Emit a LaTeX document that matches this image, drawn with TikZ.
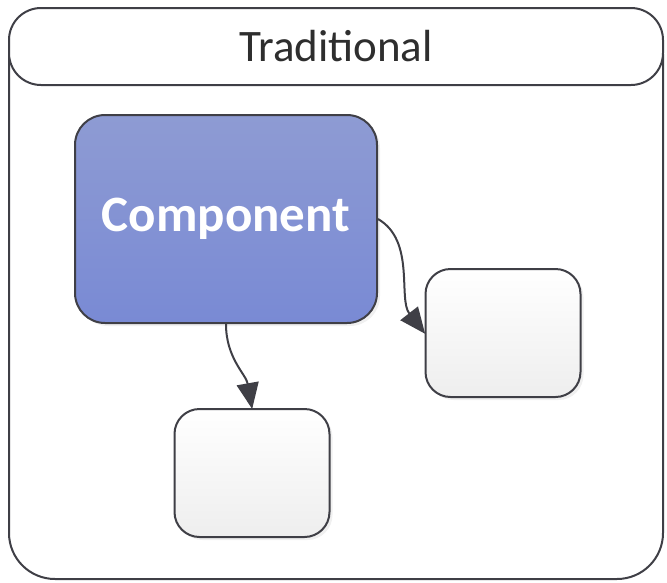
\documentclass[tikz,border=0pt]{standalone}
\usepackage{fontspec}
\setmainfont{Carlito}
\usetikzlibrary{arrows.meta,shadows}
\definecolor{edge}{HTML}{3F3F46}
\definecolor{compTop}{HTML}{8E9BD3}
\definecolor{compBot}{HTML}{798AD4}
\definecolor{boxBot}{HTML}{EEEEEE}
\definecolor{titleInk}{HTML}{2E2E2E}
\tikzset{
  frame/.style={draw=edge, line width=2pt},
  compbox/.style={draw=edge, line width=2pt, rounded corners=30pt,
    top color=compTop, bottom color=compBot,
    minimum width=302pt, minimum height=208pt,
    text=white, font=\bfseries\fontsize{51}{60}\selectfont,
    drop shadow={opacity=0.12, shadow xshift=3pt, shadow yshift=-3pt}},
  emptybox/.style={draw=edge, line width=2pt, rounded corners=25pt,
    top color=white, bottom color=boxBot,
    minimum width=155pt, minimum height=128pt,
    drop shadow={opacity=0.12, shadow xshift=3pt, shadow yshift=-3pt}},
  link/.style={draw=edge, line width=2pt,
    -{Triangle[length=26pt, width=22pt]}, shorten >=-1pt},
}
\begin{document}
\begin{tikzpicture}[x=1pt, y=-1pt]
  \useasboundingbox (0,0) rectangle (667,582);
  % outer container
  \draw[frame, rounded corners=46pt] (9,8) rectangle (663,579);
  % title band
  \draw[frame, fill=white, rounded corners=32pt] (9,8) rectangle (663,85);
  \node[text=titleInk, font=\fontsize{45}{54}\selectfont] (title) at (336,46) {Traditional};
  % components
  \node[compbox] (comp) at (226,219) {Component};
  \node[emptybox] (right) at (503,333) {};
  \node[emptybox] (below) at (252,473) {};
  % dependencies
  \draw[link] (comp.east) to[out=-30, in=128, looseness=0.9] (right.west);
  \draw[link] (comp.south) to[out=-90, in=100] (below.north);
\end{tikzpicture}
\end{document}
